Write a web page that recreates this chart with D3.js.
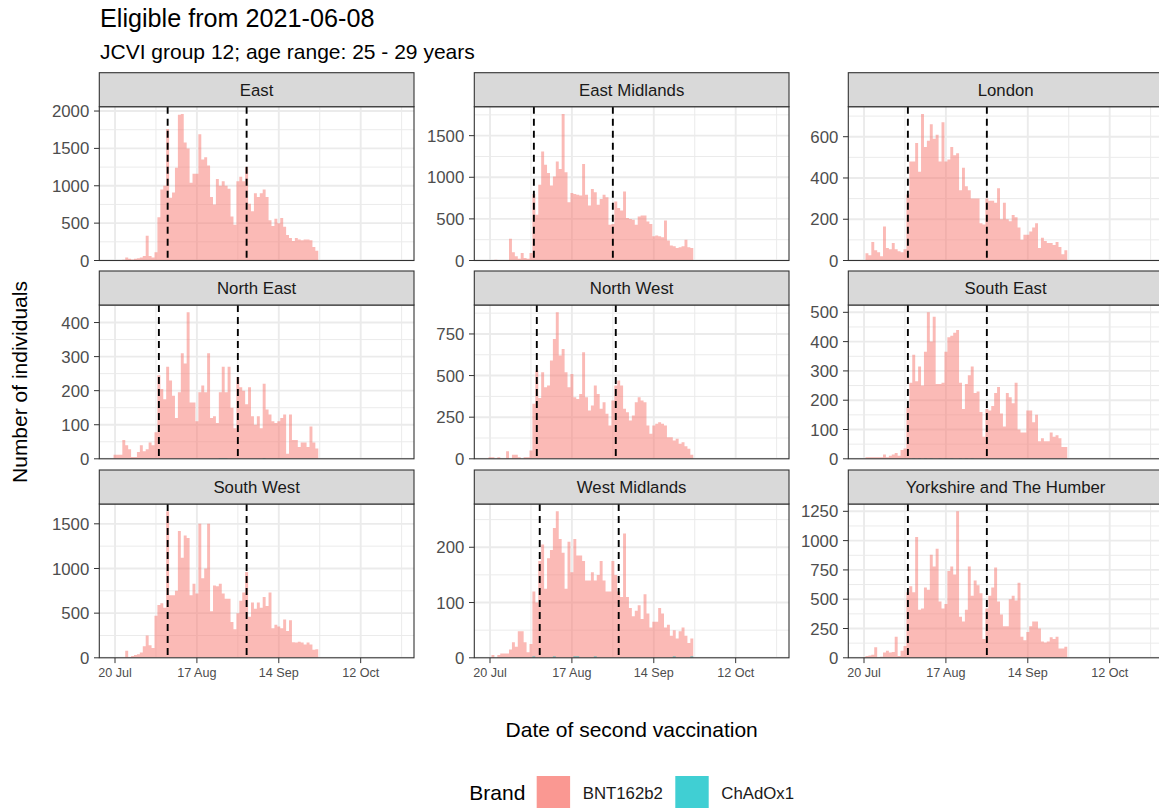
<!DOCTYPE html>
<html><head><meta charset="utf-8">
<script src="https://cdn.jsdelivr.net/npm/d3@7"></script>
<style>body{margin:0;background:#fff;} svg text{font-family:"Liberation Sans", Arial, Helvetica, sans-serif;}</style>
</head><body><svg id="chart" width="1159" height="808"></svg>
<script>
// ---------------- DATA ----------------
const regions = ["East","East Midlands","London","North East","North West","South East","South West","West Midlands","Yorkshire and The Humber"];
const firstDay = "2021-07-20"; // date of first value in each daily series
const xLimits = ["2021-07-14T15:07","2021-10-30T05:30"];
const xTickDates = ["2021-07-20","2021-08-17","2021-09-14","2021-10-12"];
const brands = ["BNT162b2","ChAdOx1"];

const bntEast = [0,5,5,10,40,25,15,25,30,40, 60,330,60,40,110,580,950,1000,1760,840, 910,1240,1950,1960,1580,1500,1040,1160,1160,1690, 1350,1380,1270,850,750,1090,1000,1060,1000,960, 590,480,1060,1120,1060,1250,760,660,900,850, 900,950,850,540,460,560,500,570,450,340, 300,260,300,280,270,280,280,270,180,130];
const bntEastMidlands = [0,0,10,5,0,0,0,260,100,50, 20,90,30,20,90,800,550,910,1310,1150, 1050,900,1010,1190,1100,1760,1060,700,810,800, 790,780,1160,790,660,860,820,670,740,790, 760,430,440,710,630,600,830,510,500,490, 430,530,540,540,470,440,290,300,290,280, 480,240,180,170,150,160,170,250,160,150];
const bntLondon = [0,35,25,90,50,40,20,165,60,55, 85,55,45,40,55,320,480,480,570,430, 710,550,580,660,590,610,480,670,480,490, 550,510,520,340,450,360,340,300,300,300, 180,175,300,290,290,280,350,200,280,200, 190,220,210,160,100,125,125,140,160,180, 60,110,95,85,85,75,90,65,30,50];
const bntNorthEast = [12,12,12,55,40,28,5,5,20,40, 22,28,48,40,78,245,205,175,270,230, 185,120,195,310,280,430,165,165,110,195, 215,195,310,120,125,105,195,270,195,270, 150,90,240,210,200,160,210,125,100,125, 90,220,145,130,110,105,110,120,130,15, 130,55,55,35,48,48,35,95,48,30];
const bntNorthWest = [10,10,0,10,0,0,45,0,25,25, 10,0,10,10,50,330,530,365,520,430, 440,590,720,880,620,660,520,430,510,370, 360,390,640,370,290,320,440,390,300,340, 270,200,350,440,470,440,300,280,230,260, 340,370,350,340,200,150,200,210,220,210, 200,130,130,110,120,90,100,75,60,25];
const bntSouthEast = [0,5,5,5,5,5,5,15,5,10, 15,20,10,30,35,175,260,355,265,315, 250,365,500,400,485,255,255,260,365,415, 420,430,440,260,170,255,285,315,225,230, 160,75,170,165,180,225,245,155,110,225, 210,190,260,100,90,90,165,165,125,150, 60,70,60,60,90,75,80,70,40,40];
const bntSouthWest = [0,0,0,0,80,10,20,30,40,60, 130,250,140,110,470,590,610,560,1640,700, 700,750,1420,1120,1370,1340,700,830,720,1500, 890,1000,1500,520,810,800,830,720,660,660, 400,320,500,640,730,960,460,620,550,620, 560,680,580,730,330,370,350,330,430,300, 420,175,170,180,170,150,170,150,90,95];
const bntWestMidlands = [0,5,0,5,8,8,8,15,28,20, 48,48,28,10,25,120,100,175,205,125, 180,195,235,265,215,190,125,210,155,215, 185,185,175,140,140,155,140,150,175,140, 120,120,175,150,120,110,225,110,90,75, 85,95,70,115,80,55,65,65,90,80, 55,60,40,50,35,48,55,40,27,35];
const bntYorkshire = [5,15,20,25,90,5,10,45,60,45, 50,180,15,60,100,560,610,560,1030,410, 420,600,580,880,780,930,480,420,460,740, 780,710,1250,350,310,410,780,530,660,620, 550,160,420,530,600,770,480,370,270,270, 500,530,490,640,180,150,220,270,310,310, 250,140,130,140,175,160,180,80,80,95];

// ChAdOx1: [day index from firstDay, count] (very small counts)
const azEast = [];
const azEastMidlands = [];
const azLondon = [];
const azNorthEast = [[36,2],[37,2],[38,2],[51,2]];
const azNorthWest = [];
const azSouthEast = [[17,2],[19,2],[21,2],[23,2],[26,2],[28,2],[30,2],[33,2],[35,2],[37,2]];
const azSouthWest = [];
const azWestMidlands = [[15,3],[22,3],[29,3],[30,3],[36,3],[63,3],[69,3]];
const azYorkshire = [];

const firstLine = ["2021-08-07","2021-08-04","2021-08-04","2021-08-04","2021-08-05","2021-08-04","2021-08-07","2021-08-06","2021-08-04"];
const secondLine = ["2021-09-03","2021-08-31","2021-08-31","2021-08-31","2021-09-01","2021-08-31","2021-09-03","2021-09-02","2021-08-31"];

const yTicksEast = [0,500,1000,1500,2000];
const yTicksEastMidlands = [0,500,1000,1500];
const yTicksLondon = [0,200,400,600];
const yTicksNorthEast = [0,100,200,300,400];
const yTicksNorthWest = [0,250,500,750];
const yTicksSouthEast = [0,100,200,300,400,500];
const yTicksSouthWest = [0,500,1000,1500];
const yTicksWestMidlands = [0,100,200];
const yTicksYorkshire = [0,250,500,750,1000,1250];

const bntSeries = [bntEast,bntEastMidlands,bntLondon,bntNorthEast,bntNorthWest,bntSouthEast,bntSouthWest,bntWestMidlands,bntYorkshire];
const azSeries = [azEast,azEastMidlands,azLondon,azNorthEast,azNorthWest,azSouthEast,azSouthWest,azWestMidlands,azYorkshire];
const yTickSets = [yTicksEast,yTicksEastMidlands,yTicksLondon,yTicksNorthEast,yTicksNorthWest,yTicksSouthEast,yTicksSouthWest,yTicksWestMidlands,yTicksYorkshire];

// ---------------- LAYOUT ----------------
const colLeft = [99.3, 474.3, 848.3];
const rowTop = [106.7, 305, 504];
const PW = 314.7, PH = 153.8, STRIP = 34;
const colors = {BNT162b2: "#F8766D", ChAdOx1: "#00BFC4"};
const DAY = 864e5;

const svg = d3.select("#chart");
const parse = d3.utcParse("%Y-%m-%d");
const parseT = d3.utcParse("%Y-%m-%dT%H:%M");
const day0 = parse(firstDay);
const x = d3.scaleUtc().domain(xLimits.map(parseT)).range([0, PW]);
const majorX = xTickDates.map(parse);
const minorX = [];
majorX.forEach(d => { minorX.push(new Date(+d - 14*DAY)); });
minorX.push(new Date(+majorX[majorX.length-1] + 14*DAY));

const defs = svg.append("defs");

// one closed step outline per run of contiguous daily bins (centred on each date): no seams between bars
function barsPath(items, y) {
  const p = d3.path();
  let open = false, lastX1 = 0, lastDay = -99;
  items.forEach(d => {
    if (d.v <= 0) return;
    const x0 = x(new Date(+d.date - DAY/2)), x1 = x(new Date(+d.date + DAY/2));
    if (!open || d.i !== lastDay + 1) {
      if (open) { p.lineTo(lastX1, y(0)); p.closePath(); }
      p.moveTo(x0, y(0));
      open = true;
    }
    p.lineTo(x0, y(d.v));
    p.lineTo(x1, y(d.v));
    lastX1 = x1; lastDay = d.i;
  });
  if (open) { p.lineTo(lastX1, y(0)); p.closePath(); }
  return p.toString();
}

regions.forEach((name, k) => {
  const col = k % 3, row = Math.floor(k / 3);
  const L = colLeft[col], T = rowTop[row];
  const vals = bntSeries[k];
  const ymax = d3.max(vals) * 1.05;
  const y = d3.scaleLinear().domain([0, ymax]).range([PH, 0]);
  const ticks = yTickSets[k];
  const step = ticks[1] - ticks[0];
  const minorY = [];
  for (let v = ticks[0] + step/2; v < ymax; v += step) minorY.push(v);

  const g = svg.append("g").attr("transform", `translate(${L},${T})`);
  defs.append("clipPath").attr("id", "clip" + k).append("rect").attr("width", PW).attr("height", PH);
  const pg = g.append("g").attr("clip-path", `url(#clip${k})`);

  // grid
  pg.selectAll(".ymin").data(minorY).join("line")
    .attr("x1", 0).attr("x2", PW).attr("y1", d => y(d)).attr("y2", d => y(d))
    .attr("stroke", "#EBEBEB").attr("stroke-width", 1);
  pg.selectAll(".xmin").data(minorX).join("line")
    .attr("y1", 0).attr("y2", PH).attr("x1", d => x(d)).attr("x2", d => x(d))
    .attr("stroke", "#EBEBEB").attr("stroke-width", 1);
  pg.selectAll(".ymaj").data(ticks).join("line")
    .attr("x1", 0).attr("x2", PW).attr("y1", d => y(d)).attr("y2", d => y(d))
    .attr("stroke", "#EBEBEB").attr("stroke-width", 1.9);
  pg.selectAll(".xmaj").data(majorX).join("line")
    .attr("y1", 0).attr("y2", PH).attr("x1", d => x(d)).attr("x2", d => x(d))
    .attr("stroke", "#EBEBEB").attr("stroke-width", 1.9);

  // bars
  const bnt = vals.map((v, i) => ({i, date: new Date(+day0 + i*DAY), v}));
  pg.append("path").attr("d", barsPath(bnt, y))
    .attr("fill", colors.BNT162b2).attr("fill-opacity", 0.5);
  const az = azSeries[k].map(([i, v]) => ({i, date: new Date(+day0 + i*DAY), v}));
  if (az.length) pg.append("path").attr("d", barsPath(az, y))
    .attr("fill", colors.ChAdOx1).attr("fill-opacity", 0.5);

  // dashed lines
  [firstLine[k], secondLine[k]].map(parse).forEach(d => {
    pg.append("line").attr("x1", x(d)).attr("x2", x(d)).attr("y1", 0).attr("y2", PH)
      .attr("stroke", "#000").attr("stroke-width", 1.9).attr("stroke-dasharray", "7,5");
  });

  // border
  g.append("rect").attr("width", PW).attr("height", PH).attr("fill", "none")
    .attr("stroke", "#333333").attr("stroke-width", 1.1);

  // y axis
  const ya = g.append("g");
  ya.selectAll("line").data(ticks).join("line")
    .attr("x1", -5.3).attr("x2", 0).attr("y1", d => y(d)).attr("y2", d => y(d))
    .attr("stroke", "#333333").attr("stroke-width", 1);
  ya.selectAll("text").data(ticks).join("text")
    .attr("x", -10).attr("y", d => y(d)).attr("dy", "0.36em")
    .attr("text-anchor", "end").attr("font-size", 16.8).attr("fill", "#4D4D4D")
    .text(d => d);

  // x axis (bottom row only)
  if (row === 2) {
    const xa = g.append("g").attr("transform", `translate(0,${PH})`);
    xa.selectAll("line").data(majorX).join("line")
      .attr("x1", d => x(d)).attr("x2", d => x(d)).attr("y1", 0).attr("y2", 5.3)
      .attr("stroke", "#333333").attr("stroke-width", 1);
    xa.selectAll("text").data(majorX).join("text")
      .attr("x", d => x(d)).attr("y", 19.5).attr("text-anchor", "middle")
      .attr("font-size", 12.6).attr("fill", "#4D4D4D")
      .text(d => d3.utcFormat("%d %b")(d));
  }

  // strip
  g.append("rect").attr("x", 0).attr("y", -STRIP).attr("width", PW).attr("height", STRIP)
    .attr("fill", "#D9D9D9").attr("stroke", "#333333").attr("stroke-width", 1.1);
  g.append("text").attr("x", PW/2).attr("y", -STRIP/2).attr("dy", "0.36em")
    .attr("text-anchor", "middle").attr("font-size", 16.8).attr("fill", "#1A1A1A").text(name);
});

// titles
svg.append("text").attr("x", 100).attr("y", 27).attr("font-size", 25.2).attr("fill", "#000")
  .text("Eligible from 2021-06-08");
svg.append("text").attr("x", 100).attr("y", 59).attr("font-size", 21).attr("fill", "#000")
  .text("JCVI group 12; age range: 25 - 29 years");
svg.append("text").attr("transform", "translate(27,382) rotate(-90)").attr("text-anchor", "middle")
  .attr("font-size", 21).attr("fill", "#000").text("Number of individuals");
svg.append("text").attr("x", 631.7).attr("y", 737).attr("text-anchor", "middle")
  .attr("font-size", 21).attr("fill", "#000").text("Date of second vaccination");

// legend
svg.append("text").attr("x", 469.3).attr("y", 800).attr("font-size", 21).attr("fill", "#000").text("Brand");
const keyX = [536.7, 675.3];
brands.forEach((b, i) => {
  svg.append("rect").attr("x", keyX[i]).attr("y", 776).attr("width", 33.4).attr("height", 33.4)
    .attr("fill", colors[b]).attr("fill-opacity", 0.75);
  svg.append("text").attr("x", keyX[i] + 46).attr("y", 799).attr("font-size", 16.8).attr("fill", "#1A1A1A").text(b);
});
</script></body></html>
